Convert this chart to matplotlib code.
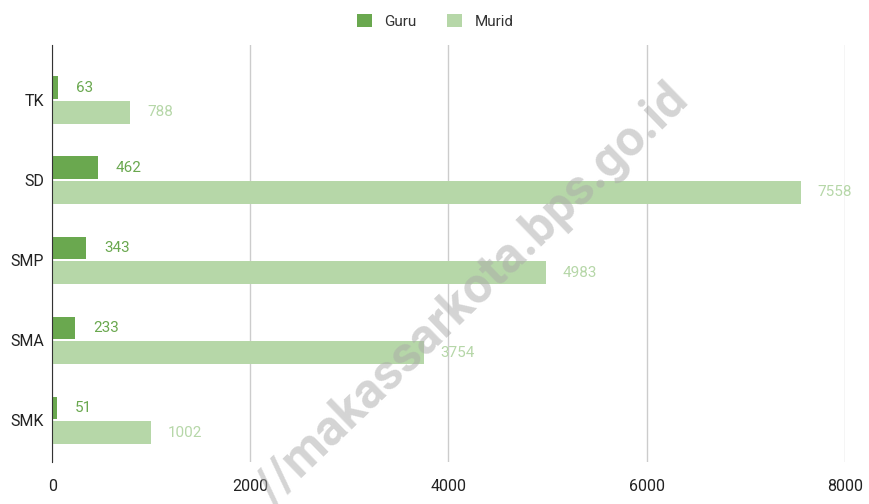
import matplotlib.pyplot as plt
import numpy as np

plt.rcParams['font.family'] = ['Roboto', 'DejaVu Sans']

kategori = ['TK', 'SD', 'SMP', 'SMA', 'SMK']
guru = [63, 462, 343, 233, 51]
murid = [788, 7558, 4983, 3754, 1002]

warna_guru = '#6aa84f'
warna_murid = '#b6d7a8'

fig = plt.figure(figsize=(8.7, 5.04), dpi=100)
ax = fig.add_axes([0.06, 0.083, 0.911, 0.828])

y = np.arange(len(kategori))
h = 0.28
b1 = ax.barh(y - 0.155, guru, height=h, color=warna_guru, label='Guru', zorder=2)
b2 = ax.barh(y + 0.155, murid, height=h, color=warna_murid, label='Murid', zorder=2)

# label nilai di ujung batang
for bar, v in zip(b1, guru):
    ax.annotate(str(v), (v, bar.get_y() + bar.get_height() / 2), xytext=(13, 0),
                textcoords='offset points', va='center', ha='left',
                color=warna_guru, fontsize=11, zorder=3)
for bar, v in zip(b2, murid):
    ax.annotate(str(v), (v, bar.get_y() + bar.get_height() / 2), xytext=(12, 0),
                textcoords='offset points', va='center', ha='left',
                color=warna_murid, fontsize=11, zorder=3)

ax.set_xlim(0, 8000)
ax.set_ylim(4.525, -0.69)
ax.set_xticks([0, 2000, 4000, 6000, 8000])
ax.set_yticks(y)
ax.set_yticklabels(kategori)
ax.tick_params(axis='both', length=0, labelsize=11.5, colors='#222222')
ax.tick_params(axis='x', pad=12)
ax.tick_params(axis='y', pad=6)
ax.grid(axis='x', color='#cccccc', linewidth=1, zorder=0)
for s in ['top', 'right', 'bottom']:
    ax.spines[s].set_visible(False)
ax.spines['left'].set_color('#333333')
ax.spines['left'].set_zorder(4)

fig.legend(loc='upper center', bbox_to_anchor=(0.5, 1.0), ncol=2, frameon=False,
           fontsize=11, handlelength=1.0, handleheight=1.0, columnspacing=2.0,
           labelcolor='#333333')

# watermark
fig.text(0.543, 0.415, '//makassarkota.bps.go.id', rotation=44, fontsize=36,
         fontweight='bold', color='#aaaaaa', alpha=0.5, ha='center', va='center',
         zorder=10)

fig.savefig('out.png', dpi=100)
